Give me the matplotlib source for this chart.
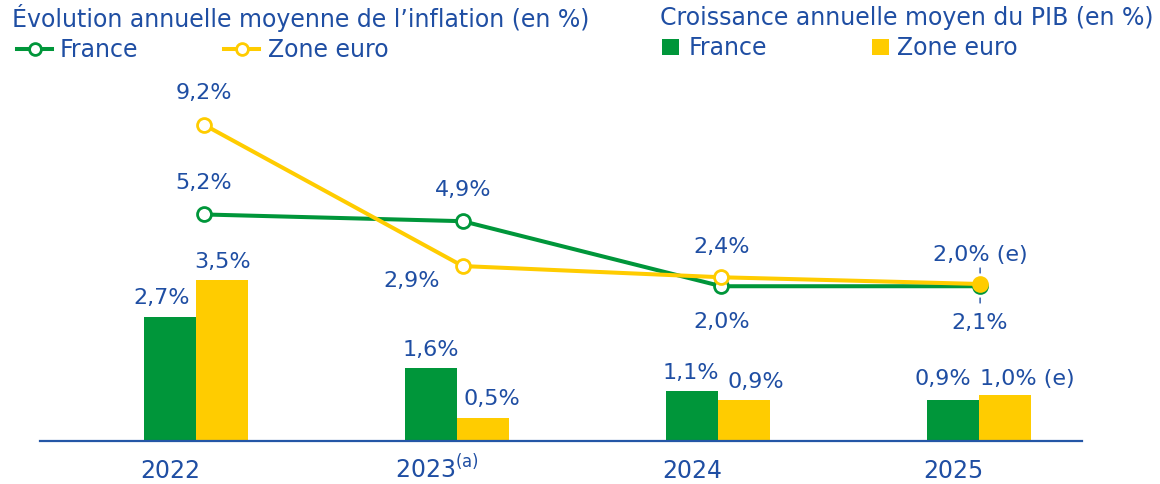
import matplotlib
matplotlib.use("Agg")
import matplotlib.pyplot as plt
from matplotlib.lines import Line2D
from matplotlib.patches import Rectangle

# ---------------- data ----------------
years = ["2022", "2023", "2024", "2025"]
year_sup = ["", "(a)", "", ""]
gdp_france = [2.7, 1.6, 1.1, 0.9]
gdp_euro = [3.5, 0.5, 0.9, 1.0]
gdp_suffix_euro = ["", "", "", " (e)"]
infl_france = [5.2, 4.9, 2.0, 2.0]
infl_euro = [9.2, 2.9, 2.4, 2.1]
infl_suffix_france = ["", "", "", " (e)"]
title_infl = "Évolution annuelle moyenne de l’inflation (en %)"
title_gdp = "Croissance annuelle moyen du PIB (en %)"
series_names = ["France", "Zone euro"]

# ---------------- style ----------------
W, H = 1160, 485
BLUE = "#1F4EA3"
GREEN = "#00963A"
YELLOW = "#FFCC00"
AXIS = "#2456A6"
FS = 16      # value labels
FS_T = 17    # titles, legend, years
plt.rcParams["font.family"] = ["DejaVu Sans"]

fig = plt.figure(figsize=(W / 100, H / 100), dpi=100)

def fx(x):
    return x / W

def fy(y):
    return 1 - y / H

# axes box in pixels
L, R, T, B = 40, 1082, 60, 442
rect = [fx(L), fy(B), fx(R) - fx(L), fy(T) - fy(B)]

# bar axes
ax = fig.add_axes(rect)
g0, gstep = 196, 261
ax.set_xlim((L - g0) / gstep, (R - g0) / gstep)
bar_ppu = 45.9
ax.set_ylim(0, (B - T) / bar_ppu)
ax.axis("off")

# line axes
ax2 = fig.add_axes(rect)
l0, lstep = 204, 258.7
ax2.set_xlim((L - l0) / lstep, (R - l0) / lstep)
line_ppu = 22.43
zero_px = 332.1
ax2.set_ylim(-(B - zero_px) / line_ppu, (zero_px - T) / line_ppu)
ax2.axis("off")
ax2.patch.set_alpha(0)

xs = list(range(len(years)))
bw = 0.2
ax.bar([x - bw / 2 for x in xs], gdp_france, width=bw, color=GREEN, zorder=2)
ax.bar([x + bw / 2 for x in xs], gdp_euro, width=bw, color=YELLOW, zorder=2)
ax.axhline(0, color=AXIS, lw=1.6, zorder=3, clip_on=False)

def fmt(v):
    return f"{v:.1f}".replace(".", ",") + "%"

# bar labels: (dx px, dy px above bar top)
fr_off = [(-8.5, 14), (0, 13), (-1, 13), (-10, 16)]
eu_off = [(0, 13), (8.5, 14), (12, 13), (0, 11)]
for i in xs:
    ax.annotate(fmt(gdp_france[i]), (i - bw / 2, gdp_france[i]),
                xytext=fr_off[i], textcoords="offset pixels",
                ha="center", va="baseline", fontsize=FS, color=BLUE)
    if gdp_suffix_euro[i]:
        ax.annotate(fmt(gdp_euro[i]) + gdp_suffix_euro[i], (i, gdp_euro[i]),
                    xytext=(1, eu_off[i][1]), textcoords="offset pixels",
                    ha="left", va="baseline", fontsize=FS, color=BLUE)
    else:
        ax.annotate(fmt(gdp_euro[i]), (i + bw / 2, gdp_euro[i]),
                    xytext=eu_off[i], textcoords="offset pixels",
                    ha="center", va="baseline", fontsize=FS, color=BLUE)
    # x tick labels centred on the France bar
    ax.annotate(years[i] + (r"$^{\mathregular{" + year_sup[i] + "}}$" if year_sup[i] else ""),
                (i - bw / 2, 0), xytext=(0 + (6 if year_sup[i] else 0), -36),
                textcoords="offset pixels", ha="center", va="baseline",
                fontsize=FS_T, color=BLUE, annotation_clip=False)

# inflation lines
ms = 10
ax2.plot(xs, infl_france, color=GREEN, lw=2.9, zorder=3)
ax2.plot(xs, infl_euro, color=YELLOW, lw=2.9, zorder=5)
ax2.plot(xs[:-1], infl_france[:-1], "o", ms=ms, mfc="white", mec=GREEN, mew=2, zorder=4)
ax2.plot(xs[-1:], infl_france[-1:], "o", ms=ms, mfc=GREEN, mec=GREEN, mew=2, zorder=4)
ax2.plot(xs[:-1], infl_euro[:-1], "o", ms=ms, mfc="white", mec=YELLOW, mew=2, zorder=6)
ax2.plot(xs[-1:], infl_euro[-1:], "o", ms=ms, mfc=YELLOW, mec=YELLOW, mew=2, zorder=6)

fr_l_off = [(0, 26), (0, 26), (0, -41), (0, 26)]
eu_l_off = [(0, 27), (-51, -20), (0, 25), (0, -44)]
for i in xs:
    ax2.annotate(fmt(infl_france[i]) + infl_suffix_france[i], (i, infl_france[i]),
                 xytext=fr_l_off[i], textcoords="offset pixels",
                 ha="center", va="baseline", fontsize=FS, color=BLUE)
    ax2.annotate(fmt(infl_euro[i]), (i, infl_euro[i]),
                 xytext=eu_l_off[i], textcoords="offset pixels",
                 ha="center", va="baseline", fontsize=FS, color=BLUE)

# small leader ticks for 2025
i = xs[-1]
ax2.annotate("", (i, infl_euro[i]), xytext=(0, 16), textcoords="offset pixels",
             arrowprops=dict(arrowstyle="-", color=BLUE, lw=1, shrinkA=0, shrinkB=11 * 0.72))
ax2.annotate("", (i, infl_euro[i]), xytext=(0, -19), textcoords="offset pixels",
             arrowprops=dict(arrowstyle="-", color=BLUE, lw=1, shrinkA=0, shrinkB=14 * 0.72))

# titles
fig.text(fx(12), fy(18), title_infl, fontsize=FS_T, color=BLUE, va="center", ha="left")
fig.text(fx(660), fy(18), title_gdp, fontsize=FS_T, color=BLUE, va="center", ha="left")

# left legend (lines)
for (x0, x1, tx), col, name in zip([(17, 52, 60), (224, 259, 268)], [GREEN, YELLOW], series_names):
    fig.add_artist(Line2D([fx(x0), fx(x1)], [fy(50), fy(50)], transform=fig.transFigure,
                          color=col, lw=2.9))
    fig.add_artist(Line2D([fx((x0 + x1) / 2)], [fy(50)], transform=fig.transFigure,
                          marker="o", ms=8.5, mfc="white", mec=col, mew=2, lw=0))
    fig.text(fx(tx), fy(50), name, fontsize=FS_T, color=BLUE, va="center", ha="left")

# right legend (squares)
for (x0, tx), col, name in zip([(662, 689), (872, 897)], [GREEN, YELLOW], series_names):
    fig.add_artist(Rectangle((fx(x0), fy(56)), fx(17), fy(0) - fy(16),
                             transform=fig.transFigure, color=col, lw=0))
    fig.text(fx(tx), fy(48), name, fontsize=FS_T, color=BLUE, va="center", ha="left")

fig.savefig("out.png", dpi=100)
